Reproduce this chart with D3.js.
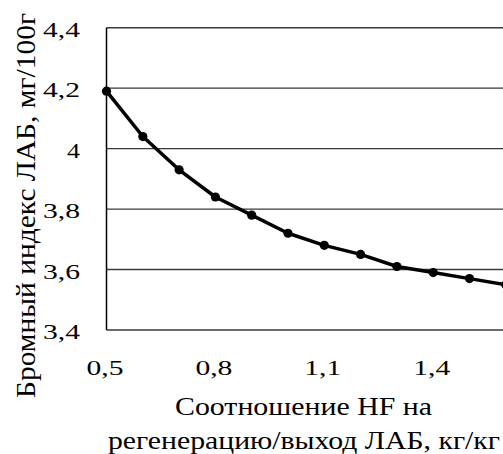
<!DOCTYPE html>
<html>
<head>
<meta charset="utf-8">
<script src="https://cdn.jsdelivr.net/npm/d3@7"></script>
<style>
  html, body { margin: 0; padding: 0; background: #fff; }
  svg { display: block; }
</style>
</head>
<body>
<svg id="chart" width="503" height="454"></svg>
<script>
// HF-to-regeneration ratio vs. bromine index of LAB
const ratios = [0.5, 0.6, 0.7, 0.8, 0.9, 1.0, 1.1, 1.2, 1.3, 1.4, 1.5, 1.6];
const bromineIndex = [4.19, 4.04, 3.93, 3.84, 3.78, 3.72, 3.68, 3.65, 3.61, 3.59, 3.57, 3.55];
const xTickValues = [0.5, 0.8, 1.1, 1.4];
const yTickValues = [3.4, 3.6, 3.8, 4.0, 4.2, 4.4];
const yTitle = "Бромный индекс ЛАБ, мг/100г";
const xTitleLines = ["Соотношение HF на", "регенерацию/выход ЛАБ, кг/кг"];

const FONT = "'Liberation Serif', 'Times New Roman', serif";
const fmt = v => d3.format(".1~f")(v).replace(".", ",");

const svg = d3.select("#chart");

const x = d3.scaleLinear().domain([0.5, 1.7]).range([106.5, 542.1]);
const y = d3.scaleLinear().domain([3.4, 4.4]).range([330, 27.7]);

// horizontal gridlines
svg.append("g")
  .selectAll("line")
  .data(yTickValues)
  .join("line")
  .attr("x1", x(0.5)).attr("x2", x(1.7))
  .attr("y1", d => y(d)).attr("y2", d => y(d))
  .attr("stroke", "#3a3a3a")
  .attr("stroke-width", 1.4);

// vertical axis line
svg.append("line")
  .attr("x1", x(0.5)).attr("x2", x(0.5))
  .attr("y1", y(4.4)).attr("y2", y(3.4))
  .attr("stroke", "#000")
  .attr("stroke-width", 1.5);

// y tick labels
svg.append("g")
  .selectAll("text")
  .data(yTickValues)
  .join("text")
  .attr("x", 80)
  .attr("y", d => y(d) + 9)
  .attr("text-anchor", "end")
  .attr("font-family", FONT)
  .attr("font-size", 22)
  .attr("textLength", d => fmt(d).length === 1 ? 13 : 37)
  .attr("lengthAdjust", "spacingAndGlyphs")
  .text(d => fmt(d));

// x tick labels
svg.append("g")
  .selectAll("text")
  .data(xTickValues)
  .join("text")
  .attr("x", d => x(d) - 1.5)
  .attr("y", 375)
  .attr("text-anchor", "middle")
  .attr("font-family", FONT)
  .attr("font-size", 22)
  .attr("textLength", 37)
  .attr("lengthAdjust", "spacingAndGlyphs")
  .text(d => fmt(d));

// data line
const line = d3.line()
  .x((d, i) => x(ratios[i]))
  .y(d => y(d));

svg.append("path")
  .datum(bromineIndex)
  .attr("d", line)
  .attr("fill", "none")
  .attr("stroke", "#000")
  .attr("stroke-width", 3.5)
  .attr("stroke-linejoin", "round");

svg.append("g")
  .selectAll("circle")
  .data(bromineIndex)
  .join("circle")
  .attr("cx", (d, i) => x(ratios[i]))
  .attr("cy", d => y(d))
  .attr("r", 4.6)
  .attr("fill", "#000");

// y axis title
svg.append("text")
  .attr("transform", "translate(35,205.5) rotate(-90)")
  .attr("text-anchor", "middle")
  .attr("font-family", FONT)
  .attr("font-size", 27)
  .attr("textLength", 385)
  .attr("lengthAdjust", "spacingAndGlyphs")
  .text(yTitle);

// x axis title (two lines)
svg.append("text")
  .attr("x", 303.5)
  .attr("y", 415)
  .attr("text-anchor", "middle")
  .attr("font-family", FONT)
  .attr("font-size", 26)
  .attr("textLength", 257)
  .attr("lengthAdjust", "spacingAndGlyphs")
  .text(xTitleLines[0]);

svg.append("text")
  .attr("x", 304)
  .attr("y", 449)
  .attr("text-anchor", "middle")
  .attr("font-family", FONT)
  .attr("font-size", 26)
  .attr("textLength", 392)
  .attr("lengthAdjust", "spacingAndGlyphs")
  .text(xTitleLines[1]);
</script>
</body>
</html>
